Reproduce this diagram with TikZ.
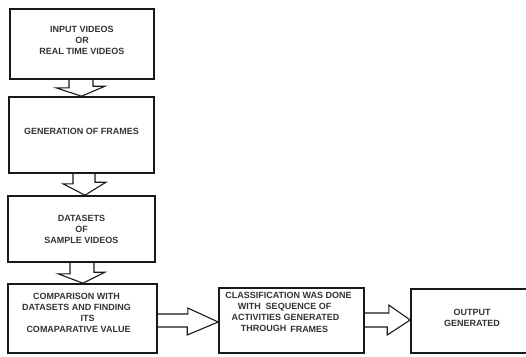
\documentclass[tikz,border=0pt]{standalone}
\usepackage{fontspec}
\setmainfont{Liberation Sans}
\begin{document}
\begin{tikzpicture}[x=1pt,y=-1pt,
  box/.style={draw=black!90, line width=1.6pt, inner sep=0pt},
  txt/.style={font=\fontsize{9}{11}\selectfont\bfseries, align=center, text=black!80, inner sep=0pt},
  blockarr/.style={draw=black!90, line width=1.1pt, line join=miter}]
\useasboundingbox (0,0) rectangle (526,356);
\clip (0,0) rectangle (526,356);
% boxes
\node[box, minimum width=144pt, minimum height=70pt] (b1) at (82,44) {};
\node[box, minimum width=145pt, minimum height=76pt] (b2) at (81.5,135) {};
\node[box, minimum width=147pt, minimum height=66pt] (b3) at (81.5,229) {};
\node[box, minimum width=149pt, minimum height=69pt] (b4) at (82.5,318.5) {};
\node[box, minimum width=145pt, minimum height=65pt] (b5) at (291.5,320.5) {};
\node[box, minimum width=124pt, minimum height=64pt] (b6) at (473,321) {};
% texts
\node[txt] (t1) at ([yshift=4pt]b1.center) {INPUT VIDEOS\\OR\\REAL TIME VIDEOS};
\node[txt] (t2) at ([yshift=4pt]b2.center) {GENERATION OF FRAMES};
\node[txt] (t3) at ([yshift=0pt]b3.center) {DATASETS\\OF\\SAMPLE VIDEOS};
\node[txt] (t4) at ([xshift=-6pt,yshift=6pt]b4.center) {COMPARISON WITH\\DATASETS AND FINDING\\\hspace*{22pt}ITS\\\hspace*{4pt}COMAPARATIVE VALUE};
\node[txt] (t5) at ([xshift=-3pt,yshift=8.5pt]b5.center) {CLASSIFICATION WAS DONE\\\hspace*{-8pt}WITH\hspace{5pt}SEQUENCE OF\\\hspace*{-6pt}ACTIVITIES GENERATED\\\hspace*{-8pt}THROUGH\hspace{4pt}\raisebox{-1pt}{FRAMES}};
\node[txt] (t6) at ([xshift=-1pt,yshift=3pt]b6.center) {OUTPUT\\GENERATED};
% block arrows (down)
\draw[blockarr] (b1.south) ++(-13,0) -- ++(0,8) -- ++(-13,0) -- (b2.north) -- ++(23.5,-10) -- ++(-12,0) -- ++(0,-8);
\draw[blockarr] (b2.south) ++(-8.5,0) -- ++(0,10) -- ++(-10,0) -- ([xshift=3.5pt]b3.north) -- ++(21,-13) -- ++(-11,0) -- ++(0,-10);
\draw[blockarr] (b3.south) ++(-11.5,0) -- ++(0,11) -- ++(-12,0) -- ([xshift=0.5pt]b4.north) -- ++(22,-11) -- ++(-11,0) -- ++(0,-11);
% block arrows (right)
\draw[blockarr] ([yshift=4.5pt]b4.east) -- ++(30,0) -- ++(0,-6) -- ([yshift=-1.5pt]b5.west) -- ++(-31,13) -- ++(0,-8) -- ++(-30,0);
\draw[blockarr] ([yshift=7.5pt]b5.east) -- ++(24,0) -- ++(0,-8) -- ([yshift=1pt]b6.west) -- ++(-23,15) -- ++(0,-8) -- ++(-24,0);
\end{tikzpicture}
\end{document}
